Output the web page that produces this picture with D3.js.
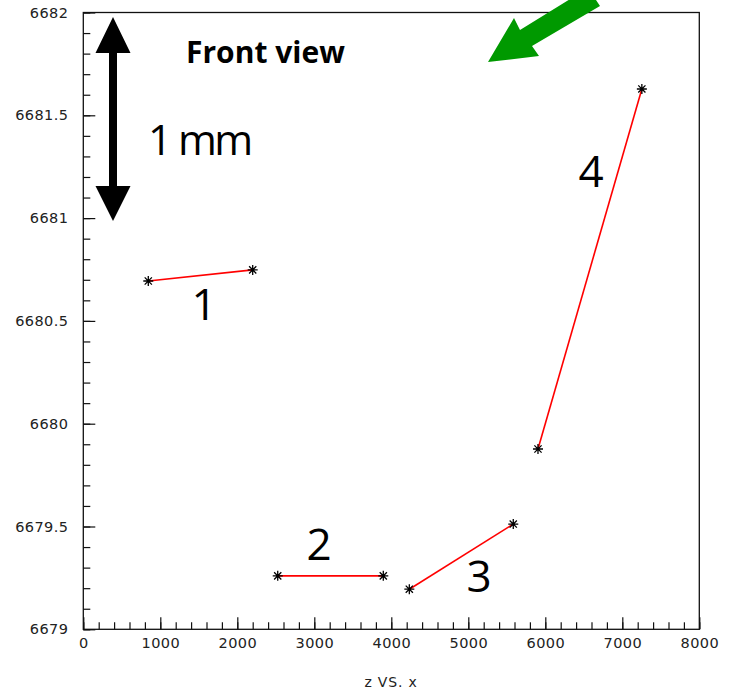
<!DOCTYPE html>
<html>
<head>
<meta charset="utf-8">
<script src="https://cdn.jsdelivr.net/npm/d3@7"></script>
<style>
  html, body { margin: 0; padding: 0; background: #fff; }
  svg { display: block; }
  .tick text { font-family: "DejaVu Sans", sans-serif; font-size: 14.5px; letter-spacing: 0.4px; fill: #222; }
</style>
</head>
<body>
<div id="main"></div>
<script>
// segments: each pair of (z, x) measurements
const segNames = ["1", "2", "3", "4"];
const segZ = [[844, 2200], [2525, 3896], [4234, 5584], [5905, 7254]];
const segX = [[6680.694, 6680.748], [6679.26, 6679.26], [6679.195, 6679.512], [6679.877, 6681.628]];

const xTicks = [0, 1000, 2000, 3000, 4000, 5000, 6000, 7000, 8000];
const yTicks = [6679, 6679.5, 6680, 6680.5, 6681, 6681.5, 6682];
const xTitle = "z VS. x";

const width = 729, height = 696;
const svg = d3.select("#main").append("svg")
  .attr("width", width)
  .attr("height", height);

const x = d3.scaleLinear().domain([0, 8000]).range([83.3, 699.3]);
const y = d3.scaleLinear().domain([6679, 6682]).range([629.3, 12.5]);

// frame
svg.append("rect")
  .attr("x", x(0)).attr("y", y(6682))
  .attr("width", x(8000) - x(0)).attr("height", y(6679) - y(6682))
  .attr("fill", "none").attr("stroke", "#111").attr("stroke-width", 1.3);

// minor ticks
svg.append("g")
  .attr("transform", `translate(0,${y(6679)})`)
  .call(d3.axisBottom(x).tickValues(d3.range(0, 8001, 200)).tickSizeInner(-7).tickSizeOuter(0).tickFormat(""))
  .call(g => g.select(".domain").remove());
svg.append("g")
  .attr("transform", `translate(${x(0)},0)`)
  .call(d3.axisLeft(y).tickValues(d3.range(0, 31).map(i => 6679 + i * 0.1)).tickSizeInner(-7).tickSizeOuter(0).tickFormat(""))
  .call(g => g.select(".domain").remove());

// major ticks + labels
svg.append("g")
  .attr("transform", `translate(0,${y(6679)})`)
  .call(d3.axisBottom(x).tickValues(xTicks).tickSizeInner(-12).tickSizeOuter(0).tickPadding(8).tickFormat(d3.format("d")))
  .call(g => g.select(".domain").remove());
svg.append("g")
  .attr("transform", `translate(${x(0)},0)`)
  .call(d3.axisLeft(y).tickValues(yTicks).tickSizeInner(-12).tickSizeOuter(0).tickPadding(15).tickFormat(d3.format("")))
  .call(g => g.select(".domain").remove());

svg.selectAll(".tick line").attr("stroke", "#111").attr("stroke-width", 1.2);

svg.append("text")
  .attr("x", 391).attr("y", 687)
  .attr("text-anchor", "middle")
  .attr("font-family", "DejaVu Sans, sans-serif")
  .attr("font-size", 14)
  .attr("letter-spacing", 0.8)
  .attr("fill", "#222")
  .text(xTitle);

// segments
const segs = segNames.map((n, i) => ({ name: n, z: segZ[i], v: segX[i] }));

svg.append("g").selectAll("line")
  .data(segs).enter().append("line")
  .attr("x1", d => x(d.z[0])).attr("y1", d => y(d.v[0]))
  .attr("x2", d => x(d.z[1])).attr("y2", d => y(d.v[1]))
  .attr("stroke", "#f00").attr("stroke-width", 1.6);

const pts = segs.flatMap(d => [[d.z[0], d.v[0]], [d.z[1], d.v[1]]]);
const star = "M-5,0H5M0,-5V5M-3.6,-3.6L3.6,3.6M-3.6,3.6L3.6,-3.6";
svg.append("g").selectAll("path")
  .data(pts).enter().append("path")
  .attr("transform", d => `translate(${x(d[0])},${y(d[1])})`)
  .attr("d", star)
  .attr("stroke", "#000").attr("stroke-width", 1.3).attr("fill", "none");

// segment labels
const labelPos = [[204, 320], [319, 560], [479, 592], [591, 187]];
svg.append("g").selectAll("text")
  .data(segs).enter().append("text")
  .attr("x", (d, i) => labelPos[i][0]).attr("y", (d, i) => labelPos[i][1])
  .attr("text-anchor", "middle")
  .attr("font-family", "Open Sans, sans-serif")
  .attr("font-size", 44)
  .attr("fill", "#000")
  .text(d => d.name);

// scale bar arrow
svg.append("path")
  .attr("d", "M113,17 L130.5,53 L117,53 L117,186 L130.5,186 L113,221 L95.5,186 L109,186 L109,53 L95.5,53 Z")
  .attr("fill", "#000");

svg.append("text")
  .attr("x", 148).attr("y", 155)
  .attr("font-family", "Open Sans, sans-serif")
  .attr("font-size", 42)
  .attr("letter-spacing", -2.5)
  .attr("fill", "#000")
  .text("1 mm");

svg.append("text")
  .attr("x", 186).attr("y", 63)
  .attr("font-family", "Open Sans, sans-serif")
  .attr("font-weight", "bold")
  .attr("font-size", 30)
  .attr("fill", "#000")
  .text("Front view");

// green direction arrow
svg.append("path")
  .attr("d", "M488,62 L514,18 L520,30 L588,-12 L600,6 L532,46 L539,56 Z")
  .attr("fill", "#009900");
</script>
</body>
</html>
